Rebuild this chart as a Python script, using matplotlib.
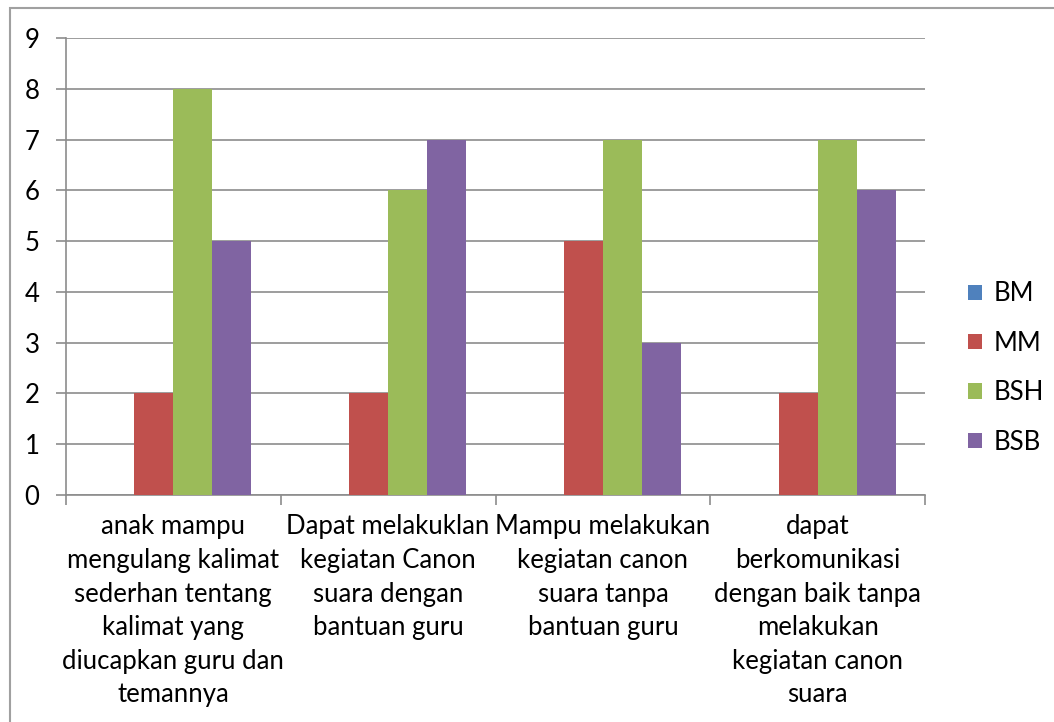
import matplotlib.pyplot as plt
import numpy as np
from matplotlib.patches import Rectangle

categories = [
    'anak mampu\nmengulang kalimat\nsederhan tentang\nkalimat yang\ndiucapkan guru dan\ntemannya',
    'Dapat melakuklan\nkegiatan Canon\nsuara dengan\nbantuan guru',
    'Mampu melakukan\nkegiatan canon\nsuara tanpa\nbantuan guru',
    'dapat\nberkomunikasi\ndengan baik tanpa\nmelakukan\nkegiatan canon\nsuara',
]
series = ['BM', 'MM', 'BSH', 'BSB']
bm = [0, 0, 0, 0]
mm = [2, 2, 5, 2]
bsh = [8, 6, 7, 7]
bsb = [5, 7, 3, 6]
colors = ['#4F81BD', '#C0504D', '#9BBB59', '#8064A2']

plt.rcParams['font.family'] = ['Lato', 'DejaVu Sans']

W, H = 1054, 722
fig = plt.figure(figsize=(W / 100, H / 100), dpi=100)
ax = fig.add_axes([66 / W, 1 - 495 / H, (925 - 66) / W, (495 - 38) / H])

# outer chart border (cut off at the right and bottom)
fig.patches.append(Rectangle((10 / W, -0.1), 1.2, 1 - 8 / H + 0.1, transform=fig.transFigure,
                             fill=False, edgecolor='#A0A0A0', linewidth=1.5))

x = np.arange(len(categories))
w = 1 / 5.5
for i, (vals, name) in enumerate(zip([bm, mm, bsh, bsb], series)):
    ax.bar(x + (i - 1.5) * w, vals, width=w, color=colors[i], label=name, zorder=3)

ax.set_xlim(-0.5, len(categories) - 0.5)
ax.set_ylim(0, 9)
ax.set_yticks(range(10))
ax.yaxis.grid(True, color='#8C8C8C', linewidth=1.2, zorder=0)

for s in ['top', 'right']:
    ax.spines[s].set_visible(False)
for s in ['left', 'bottom']:
    ax.spines[s].set_color('#8C8C8C')
    ax.spines[s].set_linewidth(1.2)

ax.set_xticks(np.arange(len(categories) + 1) - 0.5)
ax.set_xticklabels([])
ax.set_xticks(x, minor=True)
ax.set_xticklabels(categories, minor=True, fontsize=18.5, linespacing=1.43)
ax.tick_params(axis='x', which='major', length=7, color='#8C8C8C', width=1.2)
ax.tick_params(axis='x', which='minor', length=0, pad=14)
ax.tick_params(axis='y', length=7, color='#8C8C8C', width=1.2, labelsize=18.5, pad=12)

ax.legend(loc='center left', bbox_to_anchor=(968 / W, 1 - 368 / H), bbox_transform=fig.transFigure,
          frameon=False, fontsize=18.5, handlelength=0.55, handleheight=0.55, handletextpad=0.45,
          labelspacing=0.95, borderpad=0, borderaxespad=0)

fig.savefig('out.png', dpi=100)
